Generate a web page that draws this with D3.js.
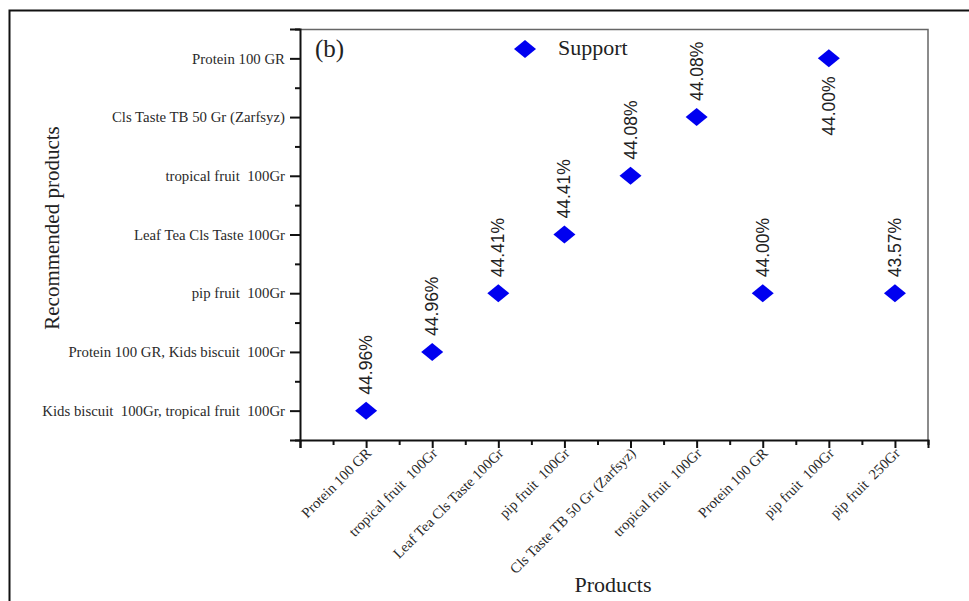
<!DOCTYPE html>
<html>
<head>
<meta charset="utf-8">
<script src="https://cdn.jsdelivr.net/npm/d3@7"></script>
<style>
  html, body { margin: 0; padding: 0; background: #fff; }
  svg { display: block; }
  text { white-space: pre; }
</style>
</head>
<body>
<div id="chart"></div>
<script>
// ── Data ────────────────────────────────────────────────────────────────────
const antecedents = [
  "Protein 100 GR",
  "tropical fruit  100Gr",
  "Leaf Tea Cls Taste 100Gr",
  "pip fruit  100Gr",
  "Cls Taste TB 50 Gr (Zarfsyz)",
  "tropical fruit  100Gr",
  "Protein 100 GR",
  "pip fruit  100Gr",
  "pip fruit  250Gr",
];
const recommended = [
  "Kids biscuit  100Gr, tropical fruit  100Gr",
  "Protein 100 GR, Kids biscuit  100Gr",
  "pip fruit  100Gr",
  "Leaf Tea Cls Taste 100Gr",
  "tropical fruit  100Gr",
  "Cls Taste TB 50 Gr (Zarfsyz)",
  "Protein 100 GR",
];
// index into recommended[] for each antecedent
const recIndex = [0, 1, 2, 3, 4, 5, 2, 6, 2];
const support = [44.96, 44.96, 44.41, 44.41, 44.08, 44.08, 44.0, 44.0, 43.57];
const labelBelow = [false, false, false, false, false, false, false, true, false];

const W = 969, H = 601;
const plot = { left: 300, right: 928, top: 29, bottom: 440 };
const serif = "'Liberation Serif', 'Times New Roman', serif";
const sans = "'Liberation Sans', Arial, sans-serif";

const svg = d3.select("#chart").append("svg")
  .attr("width", W).attr("height", H);

// ── Outer frame
svg.append("path")
  .attr("d", `M9.5,${H} L9.5,10.5 L${W},10.5`)
  .attr("fill", "none").attr("stroke", "#111").attr("stroke-width", 2);

// ── Scales
const x = d3.scaleLinear().domain([-1, 8.5]).range([plot.left, plot.right]);
const y = d3.scaleLinear().domain([-0.5, 6.5]).range([plot.bottom, plot.top]);

// ── Plot border (top / right)
svg.append("path")
  .attr("d", `M${plot.left},${plot.top + 0.5} L${plot.right},${plot.top + 0.5} L${plot.right},${plot.bottom}`)
  .attr("fill", "none").attr("stroke", "#666").attr("stroke-width", 1.5);

// ── Axes
const xMajor = d3.range(-1, 9);
const xMinor = d3.range(-0.5, 9, 1);
const yMajor = d3.range(0, 7);
const yMinor = d3.range(-0.5, 7, 1);

const gx = svg.append("g").attr("transform", `translate(0,${plot.bottom})`);
gx.call(d3.axisBottom(x).tickValues(xMajor).tickSize(8).tickFormat(""));
gx.append("g").call(d3.axisBottom(x).tickValues(xMinor).tickSize(5).tickFormat(""))
  .select(".domain").remove();
gx.selectAll(".domain").attr("stroke", "#111").attr("stroke-width", 2);
gx.selectAll(".tick line").attr("stroke", "#111").attr("stroke-width", 2);

const gy = svg.append("g").attr("transform", `translate(${plot.left},0)`);
gy.call(d3.axisLeft(y).tickValues(yMajor).tickSize(10).tickFormat(""));
gy.append("g").call(d3.axisLeft(y).tickValues(yMinor).tickSize(5).tickFormat(""))
  .select(".domain").remove();
gy.selectAll(".domain").attr("stroke", "#111").attr("stroke-width", 2);
gy.selectAll(".tick line").attr("stroke", "#111").attr("stroke-width", 2);

// y tick labels
svg.append("g").selectAll("text")
  .data(recommended)
  .join("text")
  .attr("x", plot.left - 15)
  .attr("y", (d, i) => y(i))
  .attr("dy", "0.35em")
  .attr("text-anchor", "end")
  .attr("font-family", serif)
  .attr("font-size", 14.8)
  .attr("fill", "#2a2a2a")
  .text(d => d);

// x tick labels (rotated)
svg.append("g").selectAll("text")
  .data(antecedents)
  .join("text")
  .attr("transform", (d, i) => `translate(${x(i) + 6},${plot.bottom + 14}) rotate(-45)`)
  .attr("text-anchor", "end")
  .attr("font-family", serif)
  .attr("font-size", 14.6)
  .attr("fill", "#2a2a2a")
  .text(d => d);

// ── Axis titles
svg.append("text")
  .attr("transform", `translate(59,228) rotate(-90)`)
  .attr("text-anchor", "middle")
  .attr("font-family", serif)
  .attr("font-size", 21)
  .attr("fill", "#222")
  .text("Recommended products");

svg.append("text")
  .attr("x", 613).attr("y", 592)
  .attr("text-anchor", "middle")
  .attr("font-family", serif)
  .attr("font-size", 22)
  .attr("fill", "#222")
  .text("Products");

// ── Panel tag
svg.append("text")
  .attr("x", 315).attr("y", 57)
  .attr("font-family", serif)
  .attr("font-size", 25)
  .attr("fill", "#222")
  .text("(b)");

// ── Markers
const diamond = (cx, cy) => `M${cx},${cy - 9} L${cx + 11},${cy} L${cx},${cy + 9} L${cx - 11},${cy} Z`;

svg.append("g").selectAll("path")
  .data(support)
  .join("path")
  .attr("d", (d, i) => diamond(x(i), y(recIndex[i])))
  .attr("fill", "#0000f0");

// value labels
svg.append("g").selectAll("text")
  .data(support)
  .join("text")
  .attr("transform", (d, i) => {
    const cx = x(i) + 6, cy = y(recIndex[i]);
    return labelBelow[i]
      ? `translate(${cx},${cy + 18}) rotate(-90)`
      : `translate(${cx},${cy - 16}) rotate(-90)`;
  })
  .attr("text-anchor", (d, i) => labelBelow[i] ? "end" : "start")
  .attr("font-family", sans)
  .attr("font-size", 17.5)
  .attr("fill", "#222")
  .text(d => d.toFixed(2) + "%");

// ── Legend
svg.append("path").attr("d", diamond(525, 49)).attr("fill", "#0000f0");
svg.append("text")
  .attr("x", 558).attr("y", 55)
  .attr("font-family", serif)
  .attr("font-size", 22)
  .attr("fill", "#222")
  .text("Support");
</script>
</body>
</html>
